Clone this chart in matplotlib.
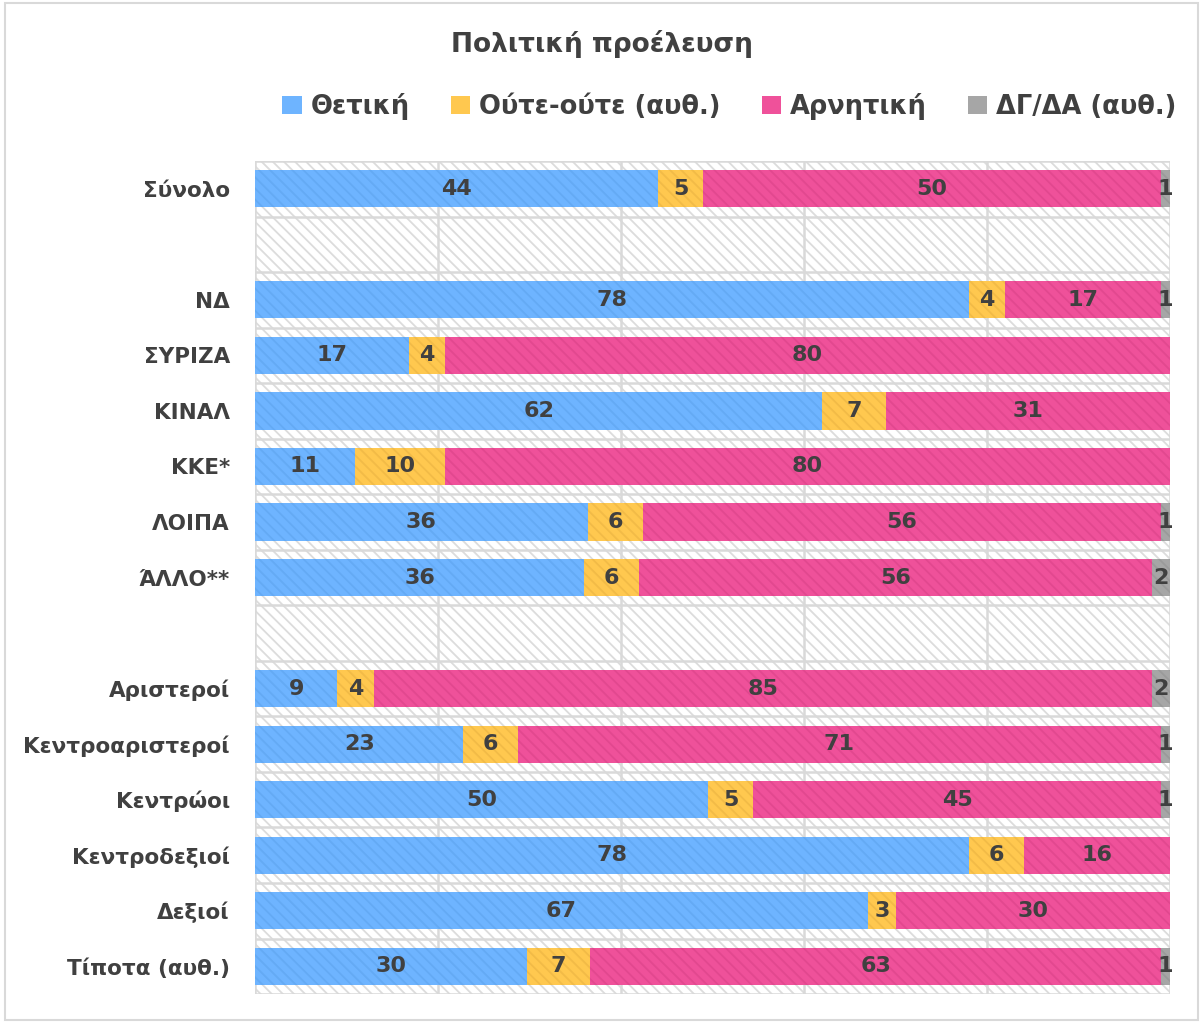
import numpy as np
import matplotlib
matplotlib.use("Agg")
import matplotlib.pyplot as plt
from matplotlib.patches import Patch, Rectangle, FancyBboxPatch

title = "Πολιτική προέλευση"
series_names = ["Θετική", "Ούτε-ούτε (αυθ.)", "Αρνητική", "ΔΓ/ΔΑ (αυθ.)"]
categories = ["Σύνολο", "", "ΝΔ", "ΣΥΡΙΖΑ", "ΚΙΝΑΛ", "ΚΚΕ*", "ΛΟΙΠΑ", "ΆΛΛΟ**", "",
              "Αριστεροί", "Κεντροαριστεροί", "Κεντρώοι", "Κεντροδεξιοί", "Δεξιοί", "Τίποτα (αυθ.)"]
thetiki  = [44, None, 78, 17, 62, 11, 36, 36, None, 9, 23, 50, 78, 67, 30]
oute     = [5,  None, 4,  4,  7,  10, 6,  6,  None, 4, 6,  5,  6,  3,  7]
arnitiki = [50, None, 17, 80, 31, 80, 56, 56, None, 85, 71, 45, 16, 30, 63]
dgda     = [1,  None, 1,  0,  0,  0,  1,  2,  None, 2, 1,  1,  0,  0,  1]

colors = ["#6EB4FF", "#FFC84F", "#EF519A", "#A6A6A6"]
hatch_colors = ["#64AAF4", "#F2BB47", "#E2488F", "#9A9A9A"]
text_color = "#404040"
grid_color = "#D9D9D9"

plt.rcParams["font.family"] = ["DejaVu Sans"]
plt.rcParams["font.weight"] = "bold"
plt.rcParams["hatch.linewidth"] = 1.3

fig = plt.figure(figsize=(12.04, 10.23), dpi=100)
fig.patch.set_facecolor("white")
ax = fig.add_axes([0.2118, 0.0283, 0.7600, 0.8143])

data = np.array([[np.nan if v is None else v for v in s]
                 for s in (thetiki, oute, arnitiki, dgda)], dtype=float)
totals = np.nansum(data, axis=0)
n = len(categories)
y = np.arange(n)

ax.set_xlim(0, 100)
ax.set_ylim(n - 0.5, -0.5)

# background hatch
ax.add_patch(Rectangle((0, -0.5), 100, n, facecolor="white", edgecolor="#DCDCDC",
                       hatch="\\\\\\", linewidth=0, zorder=0))

# grid
for gx in range(0, 101, 20):
    ax.axvline(gx, color=grid_color, lw=1.8, zorder=1)
for gy in np.arange(-0.5, n, 1.0):
    ax.axhline(gy, color=grid_color, lw=1.8, zorder=1)

left = np.zeros(n)
for i, name in enumerate(series_names):
    vals = data[i]
    pct = np.where(np.isnan(vals), 0, vals / np.where(totals == 0, 1, totals) * 100)
    ax.barh(y, pct, left=left, height=0.67, color=colors[i], edgecolor=hatch_colors[i],
            hatch="\\\\\\", linewidth=0, zorder=2, label=name)
    for j in range(n):
        if not np.isnan(vals[j]) and vals[j] > 0:
            ax.text(left[j] + pct[j] / 2, y[j], f"{int(vals[j])}", ha="center", va="center",
                    fontsize=16, fontweight="bold", color=text_color, zorder=3)
    left = left + pct

ax.set_yticks(y)
ax.set_yticklabels(categories, fontsize=15.5, fontweight="bold", color=text_color)
ax.tick_params(axis="y", length=0, pad=18)
ax.set_xticks([])
for s in ax.spines.values():
    s.set_visible(False)

fig.text(0.5, 0.957, title, ha="center", va="center", fontsize=19,
         fontweight="bold", color=text_color)

handles = [Patch(facecolor=c, edgecolor="none") for c in colors]
leg = fig.legend(handles, series_names, loc="center", bbox_to_anchor=(0.606, 0.896),
                 ncol=4, frameon=False, fontsize=18.5, handlelength=0.75, handleheight=0.75,
                 handletextpad=0.35, columnspacing=1.6)
for t in leg.get_texts():
    t.set_color(text_color)
    t.set_fontweight("bold")

# outer border
fig.patches.append(FancyBboxPatch((0.004, 0.003), 0.991, 0.994, boxstyle="square,pad=0",
                                  transform=fig.transFigure, facecolor="none",
                                  edgecolor=grid_color, linewidth=1.5))

fig.savefig("out.png", dpi=100, facecolor="white")
